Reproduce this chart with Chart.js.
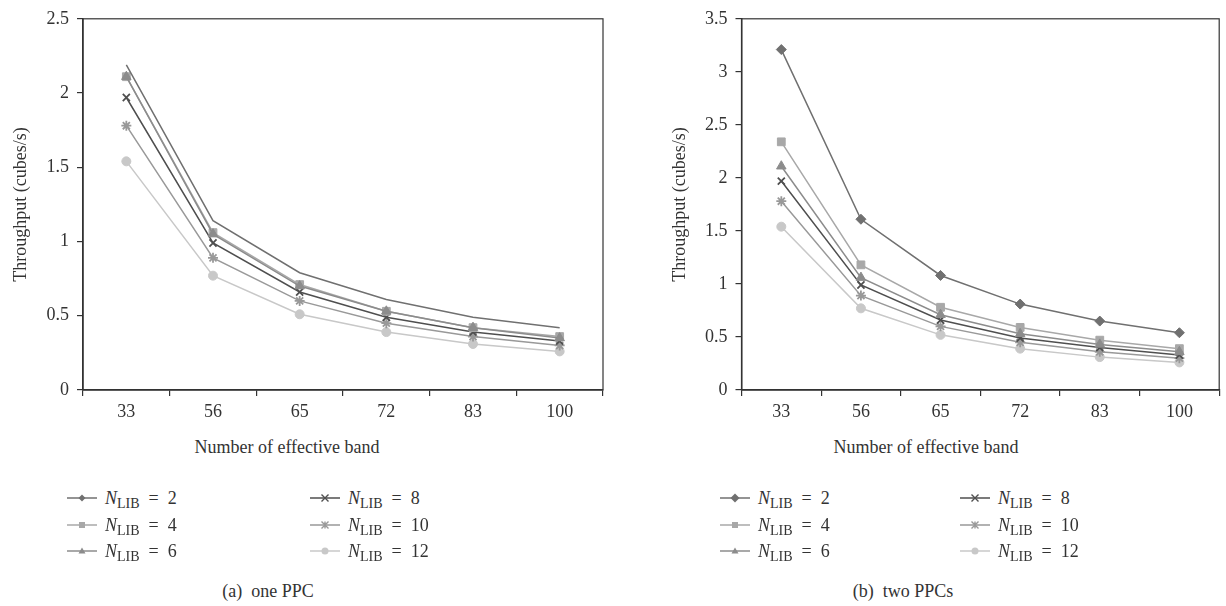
<!DOCTYPE html>
<html>
<head>
<meta charset="utf-8">
<script src="https://cdn.jsdelivr.net/npm/chart.js@4/dist/chart.umd.min.js"></script>
<style>
  body { margin: 0; width: 1226px; height: 606px; background: #fff; position: relative; overflow: hidden;
         font-family: "Liberation Serif", "DejaVu Serif", serif; color: #333; }
  .box { position: absolute; top: 0; height: 430px; }
  #boxA { left: 0; width: 612px; }
  #boxB { left: 612px; width: 614px; }
  .xtitle, .caption { position: absolute; font-size: 18px; white-space: nowrap; transform: translateX(-50%); line-height: 22px; }
  .xtitle { top: 436px; }
  .caption { top: 580px; }
  .item { position: absolute; height: 24px; display: flex; align-items: center; font-size: 18px; white-space: nowrap; }
  .item canvas { margin-right: 8px; }
  .item sub { font-size: 14px; font-style: normal; vertical-align: -4px; line-height: 0; }
</style>
</head>
<body>
<div class="box" id="boxA"><canvas id="chartA"></canvas></div>
<div class="box" id="boxB"><canvas id="chartB"></canvas></div>
<div class="xtitle" style="left:287px">Number of effective band</div>
<div class="xtitle" style="left:926px">Number of effective band</div>
<div id="legendA"></div>
<div id="legendB"></div>
<div class="caption" style="left:268px">(a)&nbsp; one PPC</div>
<div class="caption" style="left:903px">(b)&nbsp; two PPCs</div>
<script>
// categories and tick labels
const bands = ['33', '56', '65', '72', '83', '100'];
const yTicksA = [0, 0.5, 1, 1.5, 2, 2.5];
const yTicksB = [0, 0.5, 1, 1.5, 2, 2.5, 3, 3.5];
const nLib = [2, 4, 6, 8, 10, 12];

// (a) one PPC
const onePpc2 = [2.19, 1.14, 0.79, 0.61, 0.49, 0.42];
const onePpc4 = [2.11, 1.06, 0.71, 0.53, 0.42, 0.36];
const onePpc6 = [2.11, 1.05, 0.70, 0.53, 0.42, 0.35];
const onePpc8 = [1.97, 0.99, 0.66, 0.49, 0.39, 0.33];
const onePpc10 = [1.78, 0.89, 0.60, 0.45, 0.36, 0.30];
const onePpc12 = [1.54, 0.77, 0.51, 0.39, 0.31, 0.26];

// (b) two PPCs
const twoPpc2 = [3.21, 1.61, 1.08, 0.81, 0.65, 0.54];
const twoPpc4 = [2.34, 1.18, 0.78, 0.59, 0.47, 0.39];
const twoPpc6 = [2.11, 1.06, 0.71, 0.53, 0.43, 0.36];
const twoPpc8 = [1.97, 0.99, 0.66, 0.49, 0.40, 0.33];
const twoPpc10 = [1.78, 0.89, 0.60, 0.45, 0.36, 0.30];
const twoPpc12 = [1.54, 0.77, 0.52, 0.39, 0.31, 0.26];

// look of each N_LIB series (order: lower is drawn on top)
const seriesStyle = [
  { color: '#707070', point: 'rectRot', r: 5, order: 0 },
  { color: '#a8a8a8', point: 'rect', r: 5.5, order: 2 },
  { color: '#8c8c8c', point: 'triangle', r: 5.5, order: 1 },
  { color: '#4f4f4f', point: 'crossRot', r: 5, order: 3 },
  { color: '#999999', point: 'star', r: 5, order: 4 },
  { color: '#c8c8c8', point: 'circle', r: 4.5, order: 5 }
];

const axisColor = '#333';
const fontSpec = { family: '"Liberation Serif", serif', size: 18 };

// box round the plot area
const framePlugin = {
  id: 'frame',
  beforeDatasetsDraw(chart) {
    const { ctx, chartArea: a } = chart;
    ctx.save();
    ctx.strokeStyle = axisColor;
    ctx.lineWidth = 1.2;
    ctx.strokeRect(a.left, a.top, a.right - a.left, a.bottom - a.top);
    ctx.restore();
  }
};

function makeDatasets(seriesList, hideFirstPoints) {
  return seriesList.map((values, i) => {
    const s = seriesStyle[i];
    const lineOnly = hideFirstPoints && i === 0;
    return {
      label: 'N_LIB = ' + nLib[i],
      data: values,
      order: s.order,
      borderColor: s.color,
      backgroundColor: s.color,
      borderWidth: 1.5,
      pointStyle: s.point,
      pointRadius: lineOnly ? 0 : s.r,
      pointBorderWidth: (s.point === 'crossRot' || s.point === 'star') ? 1.8 : 1,
      pointBackgroundColor: s.color,
      pointBorderColor: s.color,
      tension: 0
    };
  });
}

function makeChart(canvasId, seriesList, yTicks, opts) {
  return new Chart(document.getElementById(canvasId), {
    type: 'line',
    data: { labels: bands, datasets: makeDatasets(seriesList, opts.hideFirstPoints) },
    options: {
      responsive: true,
      maintainAspectRatio: false,
      animation: false,
      layout: { padding: { top: 11, right: opts.padRight, left: 0, bottom: 0 } },
      plugins: { legend: { display: false }, tooltip: { enabled: false } },
      scales: {
        x: {
          offset: true,
          grid: { offset: true, drawOnChartArea: false, drawTicks: true, tickLength: 6, color: axisColor, lineWidth: 1.2 },
          border: { display: true, color: axisColor, width: 1.5 },
          ticks: { color: axisColor, font: fontSpec, padding: 5, maxRotation: 0 },
          afterFit: scale => { scale.height = 40; }
        },
        y: {
          min: 0,
          max: yTicks[yTicks.length - 1],
          afterBuildTicks: scale => { scale.ticks = yTicks.map(v => ({ value: v })); },
          grid: { drawOnChartArea: false, drawTicks: true, tickLength: 6, color: axisColor, lineWidth: 1.2 },
          border: { display: true, color: axisColor, width: 1.5 },
          ticks: { color: axisColor, font: fontSpec, padding: 8, callback: v => String(v) },
          title: { display: true, text: 'Throughput (cubes/s)', color: axisColor, font: fontSpec, padding: { top: opts.titlePad, bottom: 0 } },
          afterFit: scale => { scale.width = opts.yWidth; }
        }
      }
    },
    plugins: [framePlugin]
  });
}

makeChart('chartA', [onePpc2, onePpc4, onePpc6, onePpc8, onePpc10, onePpc12], yTicksA,
  { padRight: 9, yWidth: 83, titlePad: 10, hideFirstPoints: true });
makeChart('chartB', [twoPpc2, twoPpc4, twoPpc6, twoPpc8, twoPpc10, twoPpc12], yTicksB,
  { padRight: 2, yWidth: 129.5, titlePad: 57, hideFirstPoints: false });

// legend icons
function drawMarker(ctx, style, x, y, color, big) {
  const r = big ? 4.5 : 3.5;
  ctx.fillStyle = color;
  ctx.strokeStyle = color;
  ctx.lineWidth = 1.4;
  ctx.beginPath();
  if (style === 'rectRot') {
    ctx.moveTo(x, y - r); ctx.lineTo(x + r, y); ctx.lineTo(x, y + r); ctx.lineTo(x - r, y); ctx.closePath(); ctx.fill();
  } else if (style === 'rect') {
    ctx.rect(x - 3, y - 3, 6, 6); ctx.fill();
  } else if (style === 'triangle') {
    ctx.moveTo(x, y - r); ctx.lineTo(x + r, y + r * 0.7); ctx.lineTo(x - r, y + r * 0.7); ctx.closePath(); ctx.fill();
  } else if (style === 'crossRot') {
    ctx.moveTo(x - r, y - r); ctx.lineTo(x + r, y + r); ctx.moveTo(x + r, y - r); ctx.lineTo(x - r, y + r); ctx.stroke();
  } else if (style === 'star') {
    ctx.moveTo(x - r, y - r); ctx.lineTo(x + r, y + r); ctx.moveTo(x + r, y - r); ctx.lineTo(x - r, y + r);
    ctx.moveTo(x, y - r); ctx.lineTo(x, y + r); ctx.stroke();
  } else {
    ctx.arc(x, y, r, 0, Math.PI * 2); ctx.fill();
  }
}

function buildLegend(containerId, col1X, col2X, bigDiamond) {
  const box = document.getElementById(containerId);
  const rowY = [498, 525, 551];
  nLib.forEach((n, i) => {
    const s = seriesStyle[i];
    const item = document.createElement('div');
    item.className = 'item';
    item.style.left = (i < 3 ? col1X : col2X) + 'px';
    item.style.top = (rowY[i % 3] - 12) + 'px';
    const icon = document.createElement('canvas');
    icon.width = 30; icon.height = 14;
    const ctx = icon.getContext('2d');
    ctx.strokeStyle = s.color;
    ctx.lineWidth = 1.5;
    ctx.beginPath(); ctx.moveTo(0, 7); ctx.lineTo(30, 7); ctx.stroke();
    drawMarker(ctx, s.point, 15, 7, s.color, bigDiamond && i === 0);
    item.appendChild(icon);
    const label = document.createElement('span');
    label.innerHTML = '<i>N</i><sub>LIB</sub>&ensp;=&ensp;' + n;
    item.appendChild(label);
    box.appendChild(item);
  });
}

buildLegend('legendA', 67, 310, false);
buildLegend('legendB', 720, 960, true);
</script>
</body>
</html>
